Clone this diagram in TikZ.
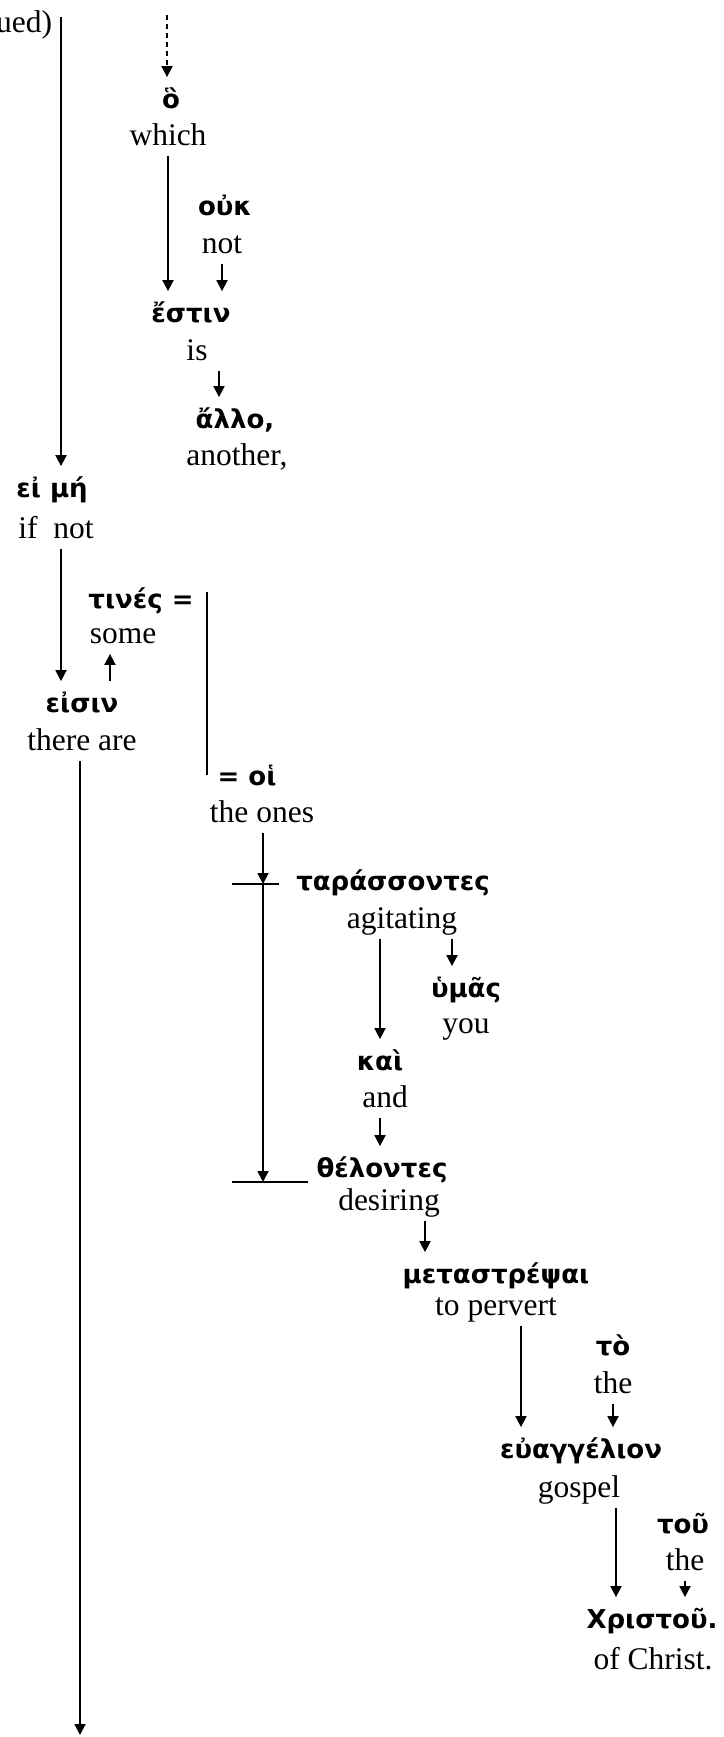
\documentclass[tikz,border=0pt]{standalone}
\usepackage{fontspec}
\setmainfont{Liberation Serif}
\newfontfamily\gkfont{DejaVu Sans}
\usetikzlibrary{arrows.meta}

\tikzset{
  gk/.style={anchor=base, inner sep=0pt, font=\gkfont\bfseries\fontsize{26}{31}\selectfont, text height=30pt, text depth=8pt},
  en/.style={anchor=base, inner sep=0pt, font=\fontsize{31.5}{36}\selectfont, text height=22pt, text depth=10pt},
  arr/.style={-{Triangle[length=11pt,width=11pt]}},
}

\begin{document}
\begin{tikzpicture}[x=1pt, y=-1pt, line width=1.8pt]
    \useasboundingbox (0,0) rectangle (723,1737);
    \clip (0,0) rectangle (723,1737);

    %words
    \node[en, anchor=base east] (cont) at (53,33) {(continued)};
    \node[gk] (ho) at (171,108) {ὃ};
    \node[en] (which) at (168,145) {which};
    \node[gk] (ouk) at (225,215) {οὐκ};
    \node[en] (not1) at (222,253) {not};
    \node[gk] (estin) at (191,322) {ἔστιν};
    \node[en] (is) at (197,360) {is};
    \node[gk] (allo) at (235,428) {ἄλλο,};
    \node[en] (another) at (237,465) {another,};
    \node[gk] (eimi) at (52,497) {εἰ μή};
    \node[en] (ifnot) at (56,538) {if\ \ not};
    \node[gk] (tines) at (141,608) {τινές =};
    \node[en] (some) at (123,643) {some};
    \node[gk] (eisin) at (82,712) {εἰσιν};
    \node[en] (thereare) at (82,750) {there are};
    \node[gk] (hoi) at (247,785) {= οἱ};
    \node[en] (theones) at (262,822) {the ones};
    \node[gk] (tarasso) at (393,890) {ταράσσοντες};
    \node[en] (agitating) at (402,928) {agitating};
    \node[gk] (hymas) at (466,997) {ὑμᾶς};
    \node[en] (you) at (466,1033) {you};
    \node[gk] (kai) at (380,1070) {καὶ};
    \node[en] (and) at (385,1107) {and};
    \node[gk] (thelontes) at (382,1177) {θέλοντες};
    \node[en] (desiring) at (389,1210) {desiring};
    \node[gk] (metastr) at (496,1283) {μεταστρέψαι};
    \node[en] (topervert) at (496,1315) {to pervert};
    \node[gk] (to) at (613,1355) {τὸ};
    \node[en] (the1) at (613,1393) {the};
    \node[gk] (euang) at (581,1458) {εὐαγγέλιον};
    \node[en] (gospel) at (579,1497) {gospel};
    \node[gk] (tou) at (683,1533) {τοῦ};
    \node[en] (the2) at (685,1570) {the};
    \node[gk] (christou) at (652,1628) {Χριστοῦ.};
    \node[en] (ofchrist) at (653,1669) {of Christ.};

    %free ends
    \coordinate (upper) at (167,15);
    \coordinate (lineTop) at (61,17);
    \coordinate (bottom) at (80,1735);
    \coordinate (eqTop) at (207,592);
    \coordinate (eqBot) at (207,775);
    \coordinate (barTop) at (263,884);
    \coordinate (barBot) at (263,1182);
    \coordinate (isR) at ([xshift=22pt]is.south);
    \coordinate (eisinR) at ([xshift=28pt]eisin.north);
    \coordinate (hymasL) at ([xshift=-14pt]hymas.north);
    \coordinate (desR) at ([xshift=36pt]desiring.south);
    \coordinate (pervR) at ([xshift=25pt]topervert.south);
    \coordinate (gospR) at ([xshift=37pt]gospel.south);

    %upper part
    \draw[arr, dash pattern=on 5pt off 4pt] (upper) -- (upper |- ho.north);
    \draw[arr] (lineTop) -- (lineTop |- eimi.north);
    \draw[arr] (which.south) -- (which.south |- estin.north);
    \draw[arr] (not1.south) -- (not1.south |- estin.north);
    \draw[arr] (isR) -- (isR |- allo.north);
    \draw[arr] (ifnot.south -| lineTop) -- (eisin.north -| lineTop);
    \draw[arr] (eisinR) -- (eisinR |- some.south);
    \draw (eqTop) -- (eqBot);
    \draw[arr] (bottom |- thereare.south) -- (bottom);

    %participles
    \draw[arr] (barTop |- theones.south) -- (barTop);
    \draw[arr] (barTop) -- (barBot);
    \draw ([xshift=-31pt]barTop) -- ([xshift=16pt]barTop);
    \draw ([xshift=-31pt]barBot) -- ([xshift=45pt]barBot);
    \draw[arr] (kai.north |- agitating.south) -- (kai.north);
    \draw[arr] (hymasL |- agitating.south) -- (hymasL);
    \draw[arr] (and.south -| kai.north) -- (thelontes.north -| kai.north);
    \draw[arr] (desR) -- (desR |- metastr.north);
    \draw[arr] (pervR) -- (pervR |- euang.north);
    \draw[arr] (the1.south) -- (the1.south |- euang.north);
    \draw[arr] (gospR) -- (gospR |- christou.north);
    \draw[arr] (the2.south) -- (the2.south |- christou.north);
\end{tikzpicture}
\end{document}
